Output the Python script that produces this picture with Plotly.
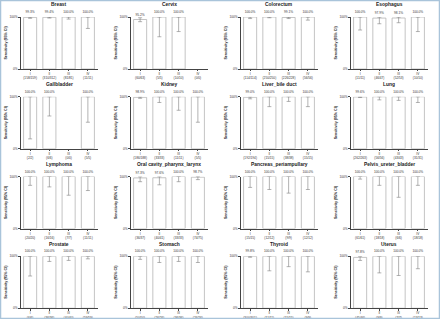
import plotly.graph_objects as go

W, H = 440, 319

cancers = ["Breast", "Cervix", "Colorectum", "Esophagus",
           "Gallbladder", "Kidney", "Liver_bile duct", "Lung",
           "Lymphoma", "Oral cavity_pharynx_larynx", "Pancreas_periampullary", "Pelvis_ureter_bladder",
           "Prostate", "Stomach", "Thyroid", "Uterus"]
stages = ["I", "II", "III", "IV"]

sens_breast = [99.3, 99.4, 100.0, 100.0]
sens_cervix = [95.2, 100.0, 100.0, None]
sens_colorectum = [100.0, 100.0, 99.1, 100.0]
sens_esophagus = [100.0, 97.9, 98.1, 100.0]
sens_gallbladder = [100.0, 100.0, None, 100.0]
sens_kidney = [98.9, 100.0, 100.0, 100.0]
sens_liver = [99.0, 100.0, 100.0, 100.0]
sens_lung = [99.6, 100.0, 100.0, 100.0]
sens_lymphoma = [100.0, 100.0, 100.0, 100.0]
sens_oral = [97.3, 97.6, 100.0, 98.7]
sens_pancreas = [100.0, 100.0, 100.0, 100.0]
sens_pelvis = [100.0, 100.0, 100.0, 100.0]
sens_prostate = [100.0, 100.0, 100.0, 100.0]
sens_stomach = [100.0, 100.0, 100.0, 100.0]
sens_thyroid = [99.8, 100.0, 100.0, 100.0]
sens_uterus = [97.8, 100.0, 100.0, 100.0]

low_breast = [97.5, 98.0, 96.0, 78.0]
low_cervix = [91.0, 62.0, 72.0, None]
low_colorectum = [97.0, 98.5, 97.0, 94.0]
low_esophagus = [75.0, 87.0, 89.0, 72.0]
low_gallbladder = [19.0, 63.0, None, 51.0]
low_kidney = [97.0, 89.0, 74.0, 51.0]
low_liver = [96.0, 81.0, 91.0, 81.0]
low_lung = [98.5, 94.0, 93.0, 89.0]
low_lymphoma = [83.0, 80.0, 64.0, 73.0]
low_oral = [90.0, 84.0, 90.0, 94.0]
low_pancreas = [79.0, 75.0, 68.0, 75.0]
low_pelvis = [95.0, 83.0, 60.0, 83.0]
low_prostate = [62.0, 90.0, 92.0, 95.0]
low_stomach = [94.0, 88.0, 90.0, 88.0]
low_thyroid = [98.0, 72.0, 80.0, 70.0]
low_uterus = [92.0, 68.0, 63.0, 76.0]

up_breast = [99.8, 99.9, 100.0, 100.0]
up_cervix = [98.5, 100.0, 100.0, None]
up_colorectum = [100.0, 100.0, 99.8, 100.0]
up_esophagus = [100.0, 99.7, 99.8, 100.0]
up_gallbladder = [100.0, 100.0, None, 100.0]
up_kidney = [99.6, 100.0, 100.0, 100.0]
up_liver = [99.7, 100.0, 100.0, 100.0]
up_lung = [99.9, 100.0, 100.0, 100.0]
up_lymphoma = [100.0, 100.0, 100.0, 100.0]
up_oral = [99.5, 99.7, 100.0, 99.8]
up_pancreas = [100.0, 100.0, 100.0, 100.0]
up_pelvis = [100.0, 100.0, 100.0, 100.0]
up_prostate = [100.0, 100.0, 100.0, 100.0]
up_stomach = [100.0, 100.0, 100.0, 100.0]
up_thyroid = [100.0, 100.0, 100.0, 100.0]
up_uterus = [99.6, 100.0, 100.0, 100.0]

n_breast = ["(158/159)", "(310/312)", "(81/81)", "(11/11)"]
n_cervix = ["(60/63)", "(5/5)", "(10/10)", "(0/0)"]
n_colorectum = ["(114/114)", "(250/250)", "(226/228)", "(56/56)"]
n_esophagus = ["(11/11)", "(46/47)", "(52/53)", "(10/10)"]
n_gallbladder = ["(2/2)", "(6/6)", "(0/0)", "(5/5)"]
n_kidney = ["(186/188)", "(33/33)", "(11/11)", "(5/5)"]
n_liver = ["(192/194)", "(15/15)", "(38/38)", "(15/15)"]
n_lung = ["(262/263)", "(56/56)", "(43/43)", "(31/31)"]
n_lymphoma = ["(20/20)", "(16/16)", "(7/7)", "(11/11)"]
n_oral = ["(36/37)", "(40/41)", "(33/33)", "(74/75)"]
n_pancreas = ["(15/15)", "(12/12)", "(9/9)", "(12/12)"]
n_pelvis = ["(61/61)", "(18/18)", "(6/6)", "(18/18)"]
n_prostate = ["(6/6)", "(36/36)", "(40/40)", "(59/59)"]
n_stomach = ["(50/50)", "(26/26)", "(36/36)", "(26/26)"]
n_thyroid = ["(300/301)", "(11/11)", "(15/15)", "(9/9)"]
n_uterus = ["(45/46)", "(9/9)", "(7/7)", "(13/13)"]

sens_all = [sens_breast, sens_cervix, sens_colorectum, sens_esophagus,
            sens_gallbladder, sens_kidney, sens_liver, sens_lung,
            sens_lymphoma, sens_oral, sens_pancreas, sens_pelvis,
            sens_prostate, sens_stomach, sens_thyroid, sens_uterus]
low_all = [low_breast, low_cervix, low_colorectum, low_esophagus,
           low_gallbladder, low_kidney, low_liver, low_lung,
           low_lymphoma, low_oral, low_pancreas, low_pelvis,
           low_prostate, low_stomach, low_thyroid, low_uterus]
up_all = [up_breast, up_cervix, up_colorectum, up_esophagus,
          up_gallbladder, up_kidney, up_liver, up_lung,
          up_lymphoma, up_oral, up_pancreas, up_pelvis,
          up_prostate, up_stomach, up_thyroid, up_uterus]
n_all = [n_breast, n_cervix, n_colorectum, n_esophagus,
         n_gallbladder, n_kidney, n_liver, n_lung,
         n_lymphoma, n_oral, n_pancreas, n_pelvis,
         n_prostate, n_stomach, n_thyroid, n_uterus]

FONT = "Liberation Sans, Arial, sans-serif"
fig = go.Figure()
layout = dict(width=W, height=H, margin=dict(l=0, r=0, t=0, b=0, pad=0, autoexpand=False),
              paper_bgcolor="white", plot_bgcolor="white", showlegend=False,
              font=dict(family=FONT, color="#222"))
annotations = []

col_w = 110.0
row_h = 79.75
for k, name in enumerate(cancers):
    r, c = divmod(k, 4)
    x0 = c * col_w + 20.5
    x1 = c * col_w + 97.5
    ytop = r * row_h + 17
    ybot = r * row_h + 69
    ax = "" if k == 0 else str(k + 1)
    vals = sens_all[k]
    minus = [None if v is None else v - lo for v, lo in zip(vals, low_all[k])]
    plus = [None if v is None else u - v for v, u in zip(vals, up_all[k])]
    txt = ["" if v is None else f"{v:.1f}%" for v in vals]
    fig.add_trace(go.Bar(
        x=stages, y=vals, xaxis="x" + ax, yaxis="y" + ax,
        width=0.68,
        marker=dict(color="white", line=dict(color="#b5b5b5", width=0.8)),
        error_y=dict(type="data", symmetric=False, array=plus, arrayminus=minus,
                     color="#808080", thickness=0.6, width=2),
        text=txt, textposition="outside", textfont=dict(size=3.2, color="#333"),
        constraintext="none", cliponaxis=False, hoverinfo="skip"))
    ticktext = [f"{s}<br>{n}" for s, n in zip(stages, n_all[k])]
    layout["xaxis" + ax] = dict(
        domain=[x0 / W, x1 / W], anchor="y" + ax, automargin=False,
        categoryorder="array", categoryarray=stages,
        tickmode="array", tickvals=stages, ticktext=ticktext,
        tickfont=dict(size=3.2, color="#333"),
        showline=True, linecolor="#444", linewidth=0.6,
        ticks="outside", ticklen=1.5, tickwidth=0.5, tickcolor="#444",
        showgrid=False, zeroline=False, fixedrange=True)
    layout["yaxis" + ax] = dict(
        domain=[1 - ybot / H, 1 - ytop / H], anchor="x" + ax, automargin=False,
        range=[0, 100], tickmode="array", tickvals=[0, 100],
        ticktext=["0%", "100%"], tickfont=dict(size=3.2, color="#333"),
        showline=True, linecolor="#444", linewidth=0.6,
        ticks="outside", ticklen=1.5, tickwidth=0.5, tickcolor="#444",
        showgrid=False, zeroline=False, fixedrange=True,
        title=dict(text="<b>Sensitivity (95% CI)</b>", font=dict(size=3.6, color="#222"),
                   standoff=2))
    annotations.append(dict(
        text=f"<b>{name}</b>", x=(x0 + x1) / 2 / W, y=1 - (r * row_h + 5) / H,
        xref="paper", yref="paper", showarrow=False, xanchor="center", yanchor="middle",
        font=dict(size=4.9, color="#222")))

layout["annotations"] = annotations
layout["shapes"] = [dict(type="rect", xref="paper", yref="paper", x0=0, x1=1, y0=0, y1=1,
                         line=dict(color="#a9c4da", width=2.5), fillcolor="rgba(0,0,0,0)")]
fig.update_layout(**layout)
fig.write_html("out.html", config={"displayModeBar": False},
               post_script="document.body.style.margin='0';document.body.style.overflow='hidden';")
